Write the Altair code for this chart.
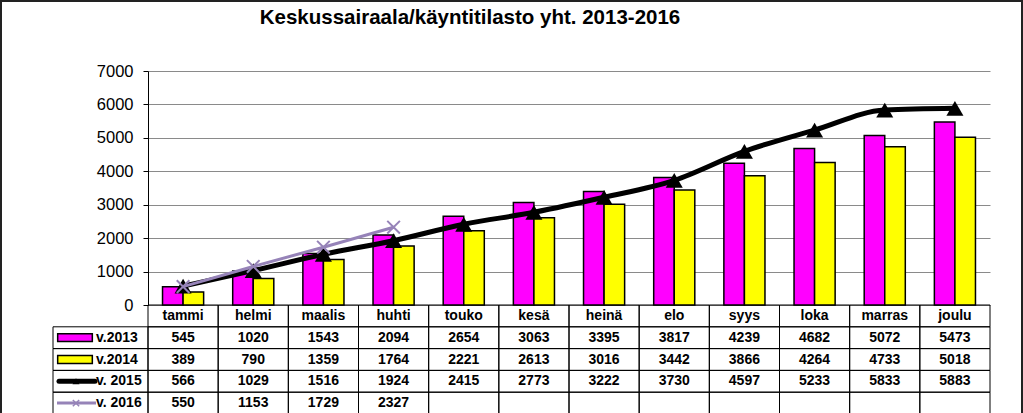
import altair as alt
import pandas as pd

months = ["tammi", "helmi", "maalis", "huhti", "touko", "kesä", "heinä",
          "elo", "syys", "loka", "marras", "joulu"]
v2013 = [545, 1020, 1543, 2094, 2654, 3063, 3395, 3817, 4239, 4682, 5072, 5473]
v2014 = [389, 790, 1359, 1764, 2221, 2613, 3016, 3442, 3866, 4264, 4733, 5018]
v2015 = [566, 1029, 1516, 1924, 2415, 2773, 3222, 3730, 4597, 5233, 5833, 5883]
v2016 = [550, 1153, 1729, 2327]
series_names = ["v.2013", "v.2014", "v. 2015", "v. 2016"]
title_text = "Keskussairaala/käyntitilasto yht. 2013-2016"
y_ticks = [0, 1000, 2000, 3000, 4000, 5000, 6000, 7000]

W, H = 842, 234
FONT = "Liberation Sans"
MAGENTA, YELLOW, PURPLE = "#FF00FF", "#FFFF00", "#9683B8"
X_SHAPE = "M-1,-1L1,1M-1,1L1,-1"
RECT_SHAPE = "M-2,-0.45L2,-0.45L2,0.45L-2,0.45Z"

bars_df = pd.DataFrame({
    "month": months * 2,
    "series": [series_names[0]] * 12 + [series_names[1]] * 12,
    "value": v2013 + v2014,
})
l15_df = pd.DataFrame({"month": months, "value": v2015})
l16_df = pd.DataFrame({"month": months[:len(v2016)], "value": v2016})

rows = ["hdr"] + series_names
cells_df = pd.DataFrame([{"month": m, "row": r} for r in rows for m in months])
text_rows = [{"month": m, "row": "hdr", "label": m} for m in months]
for name, vals in zip(series_names, [v2013, v2014, v2015, v2016]):
    for m, v in zip(months, vals):
        text_rows.append({"month": m, "row": name, "label": str(v)})
text_df = pd.DataFrame(text_rows)
legend_df = pd.DataFrame({"row": series_names})

xscale = alt.Scale(domain=months, paddingInner=0, paddingOuter=0)
yscale = alt.Scale(domain=[0, 7000], nice=False)
rowscale = alt.Scale(domain=rows, range=[H, H + 109], paddingInner=0, paddingOuter=0)

X = lambda: alt.X("month:N", scale=xscale, sort=months, axis=None)
Yrow = lambda: alt.Y("row:N", scale=rowscale, axis=None)
Yval = lambda: alt.Y("value:Q", scale=yscale, axis=None)

one = pd.DataFrame({"a": [0]})

border = alt.Chart(one).mark_rect(filled=False, stroke="#222222", strokeWidth=2).encode(
    x=alt.value(-147), x2=alt.value(874), y=alt.value(-70), y2=alt.value(350)
)

cells = alt.Chart(cells_df).mark_rect(filled=False, stroke="black", strokeWidth=1).encode(
    x=X(), y=Yrow()
)
legend_cells = alt.Chart(legend_df).mark_rect(filled=False, stroke="black", strokeWidth=1).encode(
    x=alt.value(-95), x2=alt.value(0), y=Yrow()
)

bars = alt.Chart(bars_df).mark_bar(stroke="black", strokeWidth=1.5).encode(
    x=alt.X("month:N", scale=xscale, sort=months,
            axis=alt.Axis(labels=False, ticks=False, title=None, domainColor="black",
                          domainWidth=1, grid=False)),
    xOffset=alt.XOffset("series:N", scale=alt.Scale(domain=series_names[:2],
                                                    paddingInner=0, paddingOuter=0.707)),
    y=alt.Y("value:Q", scale=yscale,
            axis=alt.Axis(values=y_ticks, format="d", grid=True, gridColor="#8a8a8a",
                          gridWidth=1, title=None, labelFont=FONT, labelFontSize=16.5,
                          labelColor="black", tickColor="black", tickSize=5, labelPadding=10,
                          domainColor="black", domainWidth=1)),
    color=alt.Color("series:N", scale=alt.Scale(domain=series_names[:2],
                                                range=[MAGENTA, YELLOW]), legend=None),
)

line15 = alt.Chart(l15_df).mark_line(color="black", strokeWidth=5, interpolate="monotone").encode(
    x=X(), y=Yval()
)
pts15 = alt.Chart(l15_df).mark_point(shape="triangle-up", size=290, filled=True,
                                     color="black", opacity=1).encode(x=X(), y=Yval())
line16 = alt.Chart(l16_df).mark_line(color=PURPLE, strokeWidth=3).encode(x=X(), y=Yval())
pts16 = alt.Chart(l16_df).mark_point(shape=X_SHAPE, size=160, filled=False, color=PURPLE,
                                     strokeWidth=2, opacity=1).encode(x=X(), y=Yval())

table_text = alt.Chart(text_df).mark_text(font=FONT, fontSize=14, fontWeight="bold",
                                          color="black").encode(
    x=X(), y=Yrow(), text="label:N"
)
legend_text = alt.Chart(legend_df).mark_text(font=FONT, fontSize=14, fontWeight="bold",
                                             color="black", align="left").encode(
    x=alt.value(-52), y=Yrow(), text="row:N"
)

sw_bars = alt.Chart(legend_df[legend_df.row.isin(series_names[:2])]).mark_point(
    shape=RECT_SHAPE, size=300, filled=True, stroke="black", strokeWidth=1.5, opacity=1
).encode(
    x=alt.value(-73), y=Yrow(),
    fill=alt.Color("row:N", scale=alt.Scale(domain=series_names[:2],
                                            range=[MAGENTA, YELLOW]), legend=None),
)
sw15_line = alt.Chart(legend_df[legend_df.row == series_names[2]]).mark_rule(
    color="black", strokeWidth=5, strokeCap="round").encode(
    x=alt.value(-89), x2=alt.value(-53), y=Yrow())
sw15_pt = alt.Chart(legend_df[legend_df.row == series_names[2]]).mark_point(
    shape="triangle-up", size=50, filled=True, color="black", opacity=1).encode(
    x=alt.value(-72), y=Yrow())
sw16_line = alt.Chart(legend_df[legend_df.row == series_names[3]]).mark_rule(
    color=PURPLE, strokeWidth=3).encode(x=alt.value(-91), x2=alt.value(-52), y=Yrow())
sw16_pt = alt.Chart(legend_df[legend_df.row == series_names[3]]).mark_point(
    shape=X_SHAPE, size=40, filled=False, color=PURPLE, strokeWidth=1.5, opacity=1).encode(
    x=alt.value(-72), y=Yrow())

title = alt.Chart(one).mark_text(font=FONT, fontSize=20.5, fontWeight="bold", color="black",
                                 baseline="middle").encode(
    x=alt.value(322), y=alt.value(-53), text=alt.value(title_text)
)

chart = alt.layer(
    border, cells, legend_cells, bars, line15, pts15, line16, pts16,
    table_text, legend_text, sw_bars, sw15_line, sw15_pt, sw16_line, sw16_pt, title
).resolve_scale(y="independent", color="independent").properties(
    width=W, height=H,
    autosize=alt.AutoSizeParams(type="none"),
    padding={"left": 148, "top": 71, "right": 33, "bottom": 108},
    background="white",
).configure_view(stroke=None)

chart.save("out.html", embed_options={"renderer": "svg", "actions": False})
